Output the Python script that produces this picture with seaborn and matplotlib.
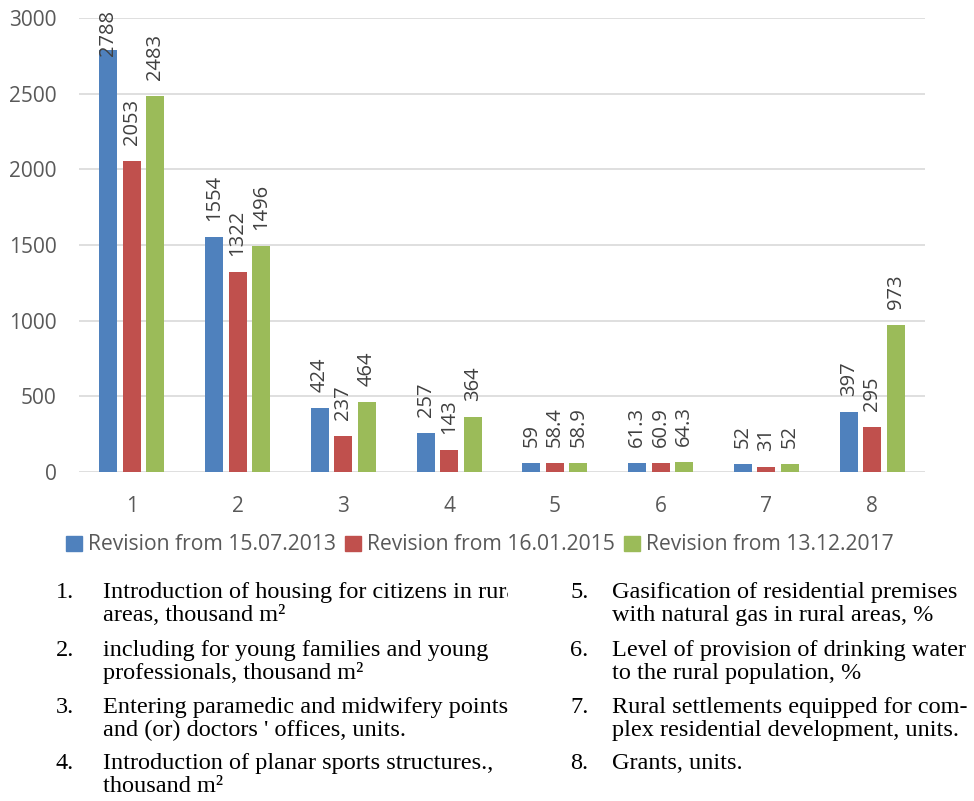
import seaborn as sns
import matplotlib.pyplot as plt
import pandas as pd
from matplotlib.transforms import Bbox

items = ["1", "2", "3", "4", "5", "6", "7", "8"]
rev_2013 = [2788, 1554, 424, 257, 59, 61.3, 52, 397]
rev_2015 = [2053, 1322, 237, 143, 58.4, 60.9, 31, 295]
rev_2017 = [2483, 1496, 464, 364, 58.9, 64.3, 52, 973]
revisions = ["Revision from 15.07.2013", "Revision from 16.01.2015", "Revision from 13.12.2017"]
colors = ["#4f81bd", "#c0504d", "#9bbb59"]

notes_left = [
    ("1.", "Introduction of housing for citizens in rural", "areas, thousand m²"),
    ("2.", "including for young families and young", "professionals, thousand m²"),
    ("3.", "Entering paramedic and midwifery points", "and (or) doctors ' offices, units."),
    ("4.", "Introduction of planar sports structures.,", "thousand m²"),
]
notes_right = [
    ("5.", "Gasification of residential premises", "with natural gas in rural areas, %"),
    ("6.", "Level of provision of drinking water", "to the rural population, %"),
    ("7.", "Rural settlements equipped for com-", "plex residential development, units."),
    ("8.", "Grants, units.", ""),
]

df = pd.DataFrame({
    "item": items * 3,
    "value": rev_2013 + rev_2015 + rev_2017,
    "revision": [revisions[0]] * 8 + [revisions[1]] * 8 + [revisions[2]] * 8,
})

plt.rcParams["font.family"] = ["Open Sans", "DejaVu Sans"]

W, H = 974, 801
fig = plt.figure(figsize=(W / 100, H / 100), dpi=100)
ax = fig.add_axes([79 / W, 1 - 472 / H, (925 - 79) / W, (472 - 18) / H])

sns.barplot(data=df, x="item", y="value", hue="revision", palette=colors,
            width=0.666, gap=0.23, legend=False, ax=ax, saturation=1)

series = [rev_2013, rev_2015, rev_2017]
for cont, vals in zip(ax.containers, series):
    anns = ax.bar_label(cont, labels=[f"{v:g}" for v in vals], rotation=90, padding=11.5,
                        fontsize=14.5, color="#404040")
    # labels that would run past the top of the plot get pulled down (as Excel does)
    for a, v in zip(anns, vals):
        if v > 2600:
            a.xyann = (0, -4.5)

ax.set_ylim(0, 3000)
ax.set_xlim(-0.5, 7.5)
ax.set_yticks([0, 500, 1000, 1500, 2000, 2500, 3000])
ax.set_xlabel("")
ax.set_ylabel("")
ax.grid(axis="y", color="#d9d9d9", linewidth=1.2)
ax.set_axisbelow(True)
for s in ax.spines.values():
    s.set_visible(False)
ax.tick_params(axis="both", length=0, labelsize=15, labelcolor="#595959")
ax.tick_params(axis="y", pad=16)
ax.tick_params(axis="x", pad=17)

handles = [plt.Rectangle((0, 0), 1, 1, color=c) for c in colors]
fig.legend(handles, revisions, loc="center", bbox_to_anchor=(480 / W, 1 - 545 / H),
           ncol=3, frameon=False, fontsize=15.2, labelcolor="#595959",
           handlelength=0.72, handleheight=0.72, handletextpad=0.3, columnspacing=0.45)

serif = "Liberation Serif"
fs = 17.5
ys = [598, 656, 713, 769]
clip = Bbox.from_extents(0, 0, 508, H)
for (num, l1, l2), y in zip(notes_left, ys):
    fig.text(56 / W, 1 - y / H, num, family=serif, fontsize=fs, va="baseline")
    t = fig.text(103 / W, 1 - y / H, l1, family=serif, fontsize=fs, va="baseline")
    t.set_clip_box(clip)
    t.set_clip_on(True)
    fig.text(103 / W, 1 - (y + 23) / H, l2, family=serif, fontsize=fs, va="baseline")
for (num, l1, l2), y in zip(notes_right, ys):
    fig.text(570 / W, 1 - y / H, num, family=serif, fontsize=fs, va="baseline")
    fig.text(612 / W, 1 - y / H, l1, family=serif, fontsize=fs, va="baseline")
    if l2:
        fig.text(612 / W, 1 - (y + 23) / H, l2, family=serif, fontsize=fs, va="baseline")

fig.savefig("out.png", dpi=100)
